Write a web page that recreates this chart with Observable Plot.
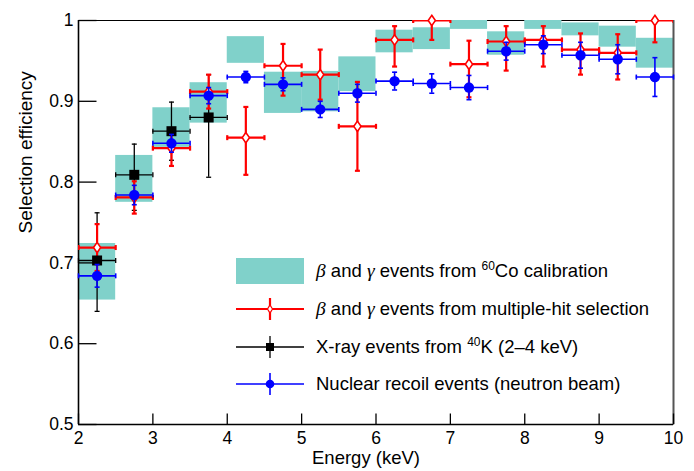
<!DOCTYPE html>
<html>
<head>
<meta charset="utf-8">
<script src="https://cdn.jsdelivr.net/npm/d3@7"></script>
<script src="https://cdn.jsdelivr.net/npm/@observablehq/plot@0.6"></script>
<style>
  body { margin: 0; background: #fff; }
  #wrap { position: relative; width: 694px; height: 471px; font-family: "Liberation Sans", Arial, Helvetica, sans-serif; }
  #legend { position: absolute; left: 236px; top: 256px; }
  .row { position: absolute; left: 0; height: 30px; display: flex; align-items: center; white-space: nowrap; font-size: 18.5px; color: #000; }
  .row svg { flex: none; margin-right: 12px; }
  .gr { font-family: "Liberation Serif", "DejaVu Serif", serif; font-style: italic; font-size: 19.5px; }
  sup { font-size: 12px; vertical-align: 7px; line-height: 0; }
</style>
</head>
<body>
<div id="wrap"></div>
<script>
// ---- data ----
const energy = [2.25, 2.75, 3.25, 3.75, 4.25, 4.75, 5.25, 5.75, 6.25, 6.75, 7.25, 7.75, 8.25, 8.75, 9.25, 9.75];
const binHalfWidth = 0.25;

// 60Co calibration bands (lower / upper edge)
const coLow  = [0.654, 0.775, 0.843, 0.873, 0.947, 0.885, 0.887, 0.912, 0.960, 0.964, 0.989, 0.957, 0.989, 0.981, 0.967, 0.941];
const coHigh = [0.724, 0.833, 0.892, 0.923, 0.980, 0.936, 0.937, 0.955, 0.988, 0.991, 1.000, 0.986, 1.000, 0.997, 0.993, 0.978];

// multiple-hit selection (red)
const mhEff = [0.719, 0.781, 0.842, 0.912, 0.855, 0.944, 0.933, 0.869, 0.976, 1.000, 0.946, 0.974, 0.976, 0.964, 0.960, 1.000];
const mhLo  = [0.690, 0.761, 0.820, 0.891, 0.809, 0.907, 0.902, 0.814, 0.943, 0.976, 0.905, 0.938, 0.943, 0.933, 0.927, 0.973];
const mhHi  = [0.748, 0.801, 0.864, 0.933, 0.893, 0.971, 0.964, 0.924, 0.993, 1.025, 0.975, 0.993, 0.993, 0.984, 0.983, 1.027];

// X-ray events from 40K (black)
const xrEnergy = [2.25, 2.75, 3.25, 3.75];
const xrEff = [0.703, 0.809, 0.863, 0.880];
const xrLo  = [0.640, 0.765, 0.827, 0.806];
const xrHi  = [0.762, 0.847, 0.899, 0.933];

// nuclear recoil events (blue)
const nrEff = [0.684, 0.784, 0.848, 0.907, 0.930, 0.921, 0.890, 0.910, 0.925, 0.922, 0.917, 0.962, 0.970, 0.957, 0.952, 0.930];
const nrErr = [0.014, 0.012, 0.011, 0.010, 0.007, 0.008, 0.010, 0.011, 0.011, 0.012, 0.015, 0.011, 0.011, 0.016, 0.018, 0.024];

const xTicks = [2, 3, 4, 5, 6, 7, 8, 9, 10];
const yTicks = [0.5, 0.6, 0.7, 0.8, 0.9, 1];

const xLabel = "Energy (keV)";
const yLabel = "Selection efficiency";

// ---- tables ----
const co = energy.map((e, i) => ({e, lo: coLow[i], hi: coHigh[i]}));
const mh = energy.map((e, i) => ({e, v: mhEff[i], lo: mhLo[i], hi: mhHi[i]}));
const xr = xrEnergy.map((e, i) => ({e, v: xrEff[i], lo: xrLo[i], hi: xrHi[i]}));
const nr = energy.map((e, i) => ({e, v: nrEff[i], lo: nrEff[i] - nrErr[i], hi: nrEff[i] + nrErr[i]}));

// ---- custom symbols ----
const capV = L => ({draw(c) { c.moveTo(0, -L / 2); c.lineTo(0, L / 2); }});
const capH = L => ({draw(c) { c.moveTo(-L / 2, 0); c.lineTo(L / 2, 0); }});
const tickRight = L => ({draw(c) { c.moveTo(0, 0); c.lineTo(L, 0); }});
const tickUp = L => ({draw(c) { c.moveTo(0, 0); c.lineTo(0, -L); }});
const diamond = (w, h) => ({draw(c) { c.moveTo(0, -h); c.lineTo(w, 0); c.lineTo(0, h); c.lineTo(-w, 0); c.closePath(); }});
const square = s => ({draw(c) { c.rect(-s / 2, -s / 2, s, s); }});

function errorBars(data, color, sw, cap, clip = false) {
  return [
    Plot.ruleY(data, {y: "v", x1: d => d.e - binHalfWidth, x2: d => d.e + binHalfWidth, stroke: color, strokeWidth: sw, clip}),
    Plot.ruleX(data, {x: "e", y1: "lo", y2: "hi", stroke: color, strokeWidth: sw, clip}),
    Plot.dot(data, {x: d => d.e - binHalfWidth, y: "v", symbol: capV(cap), fill: "none", stroke: color, strokeWidth: sw, clip}),
    Plot.dot(data, {x: d => d.e + binHalfWidth, y: "v", symbol: capV(cap), fill: "none", stroke: color, strokeWidth: sw, clip}),
    Plot.dot(data, {x: "e", y: "lo", symbol: capH(cap), fill: "none", stroke: color, strokeWidth: sw, clip}),
    Plot.dot(data, {x: "e", y: "hi", symbol: capH(cap), fill: "none", stroke: color, strokeWidth: sw, clip})
  ];
}

const teal = "#80d1ca";
const red = "#ff0000";
const blue = "#0000ff";

const chart = Plot.plot({
  width: 694,
  height: 471,
  marginLeft: 78,
  marginRight: 21,
  marginTop: 20,
  marginBottom: 47,
  x: {domain: [2, 10]},
  y: {domain: [0.5, 1]},
  style: {fontFamily: '"Liberation Sans", Arial, Helvetica, sans-serif', fontSize: "17px", background: "white", color: "black", overflow: "visible"},
  marks: [
    Plot.ruleY([1], {stroke: "black", strokeWidth: 1.2}),
    Plot.rect(co, {x1: d => d.e - binHalfWidth, x2: d => d.e + binHalfWidth, y1: "lo", y2: "hi", fill: teal}),
    Plot.ruleX([2], {stroke: "black", strokeWidth: 1.6}),
    Plot.ruleY([0.5], {stroke: "black", strokeWidth: 1.6}),
    Plot.ruleX([10], {stroke: "#555", strokeWidth: 2}),
    Plot.dot(yTicks, {x: () => 2, y: d => d, symbol: tickRight(18), fill: "none", stroke: "black", strokeWidth: 1.3}),
    Plot.dot(xTicks, {x: d => d, y: () => 0.5, symbol: tickUp(11), fill: "none", stroke: "black", strokeWidth: 1.3}),
    Plot.axisY({ticks: yTicks, tickSize: 0, tickPadding: 5, label: null, fontSize: 17.5, tickFormat: d => d === 1 ? "1" : d.toFixed(1)}),
    Plot.axisX({ticks: xTicks, tickSize: 0, tickPadding: 7, label: null, fontSize: 17.5, tickFormat: d => String(d)}),
    Plot.text([yLabel], {text: d => d, frameAnchor: "left", rotate: -90, dx: -53, dy: 11, fontSize: 19}),
    Plot.text([xLabel], {text: d => d, frameAnchor: "bottom", lineAnchor: "middle", dx: -10, dy: 34, fontSize: 18.5}),
    ...errorBars(xr, "black", 1.3, 5),
    ...errorBars(mh, red, 2.2, 5, true),
    Plot.dot(xr, {x: "e", y: "v", symbol: square(10), fill: "black", stroke: "none"}),
    Plot.dot(mh, {x: "e", y: "v", symbol: diamond(3.6, 5.2), fill: "white", stroke: red, strokeWidth: 1.6}),
    ...errorBars(nr, blue, 1.6, 5),
    Plot.dot(nr, {x: "e", y: "v", r: 5.2, fill: blue, stroke: "none"})
  ]
});

const wrap = document.getElementById("wrap");
wrap.appendChild(chart);

// ---- legend ----
const legend = document.createElement("div");
legend.id = "legend";
const sw = (inner) => `<svg width="68" height="30" viewBox="0 0 68 30">${inner}</svg>`;
const rows = [
  {top: 0, swatch: sw(`<rect x="0" y="2" width="68" height="26" fill="${teal}"/>`),
   html: `<span class="gr">β</span>&nbsp;and&nbsp;<span class="gr">γ</span>&nbsp;events from <sup>60</sup>Co calibration`},
  {top: 38, swatch: sw(`<line x1="0" x2="68" y1="15" y2="15" stroke="${red}" stroke-width="2.2"/><line x1="34" x2="34" y1="4" y2="26" stroke="${red}" stroke-width="2.2"/><path d="M34,11 L36.5,15 L34,19 L31.5,15 Z" fill="white" stroke="${red}" stroke-width="1.2"/>`),
   html: `<span class="gr">β</span>&nbsp;and&nbsp;<span class="gr">γ</span>&nbsp;events from multiple-hit selection`},
  {top: 76, swatch: sw(`<line x1="0" x2="68" y1="15" y2="15" stroke="black" stroke-width="1.3"/><line x1="34" x2="34" y1="4" y2="26" stroke="black" stroke-width="1.3"/><rect x="30" y="11" width="8" height="8" fill="black"/>`),
   html: `X-ray events from <sup>40</sup>K (2–4 keV)`},
  {top: 113, swatch: sw(`<line x1="0" x2="68" y1="15" y2="15" stroke="${blue}" stroke-width="1.6"/><line x1="34" x2="34" y1="4" y2="26" stroke="${blue}" stroke-width="1.6"/><circle cx="34" cy="15" r="4.3" fill="${blue}"/>`),
   html: `Nuclear recoil events (neutron beam)`}
];
for (const r of rows) {
  const div = document.createElement("div");
  div.className = "row";
  div.style.top = r.top + "px";
  div.innerHTML = r.swatch + `<span>${r.html}</span>`;
  legend.appendChild(div);
}
wrap.appendChild(legend);
</script>
</body>
</html>
